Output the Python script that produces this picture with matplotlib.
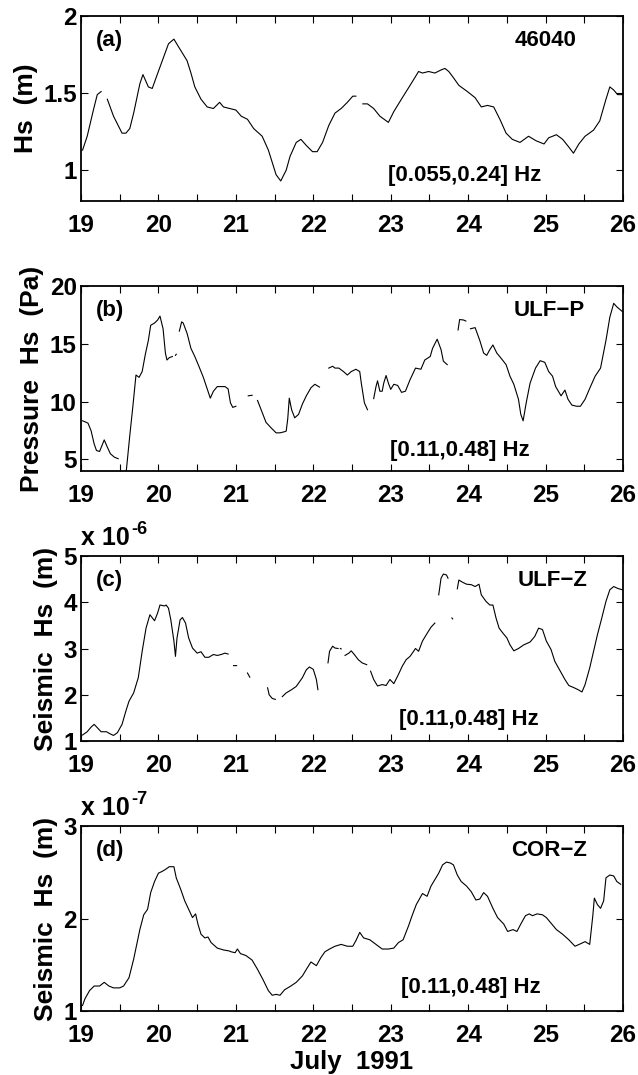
import numpy as np
import matplotlib
matplotlib.use("Agg")
import matplotlib.pyplot as plt
from matplotlib.ticker import MultipleLocator, FixedLocator
from matplotlib.transforms import offset_copy

plt.rcParams['font.family'] = ['Liberation Sans', 'DejaVu Sans']
plt.rcParams['font.weight'] = 'bold'

nan = np.nan

# (a) Buoy 46040 significant wave height, 0.055-0.24 Hz (m)
buoy_day = [19.02, 19.08, 19.16, 19.21, 19.26, nan,
            19.34, 19.42, 19.53, 19.58, 19.63, 19.68, 19.76, 19.80, 19.87, 19.92,
            19.97, 20.05, 20.13, 20.20, 20.26, 20.37, 20.42, 20.47, 20.55, 20.63,
            20.71, 20.79, 20.84, 20.92, 21.00, 21.07, 21.15, 21.23, 21.34, 21.42,
            21.47, 21.52, 21.58, 21.65, 21.70, 21.78, 21.84, 21.91, 21.99, 22.05,
            22.12, 22.20, 22.28, 22.36, 22.44, 22.51, 22.55, nan,
            22.64, 22.70, 22.78, 22.86, 22.97, 23.04, 23.15, 23.25, 23.36, 23.41,
            23.49, 23.57, 23.65, 23.70, 23.75, 23.81, 23.88, 23.99, 24.09, 24.17,
            24.25, 24.33, 24.41, 24.49, 24.57, 24.67, 24.78, 24.88, 24.98, 25.04,
            25.14, 25.22, 25.30, 25.36, 25.43, 25.51, 25.62, 25.70, 25.78, 25.83,
            25.88, 25.93, 25.99]
buoy_hs = [1.13, 1.22, 1.39, 1.49, 1.51, nan,
           1.46, 1.35, 1.24, 1.24, 1.27, 1.37, 1.56, 1.62, 1.54, 1.53,
           1.60, 1.71, 1.82, 1.85, 1.80, 1.71, 1.63, 1.54, 1.46, 1.41,
           1.40, 1.44, 1.41, 1.40, 1.39, 1.35, 1.33, 1.27, 1.22, 1.13,
           1.05, 0.97, 0.93, 1.00, 1.09, 1.18, 1.20, 1.16, 1.12, 1.12,
           1.18, 1.29, 1.37, 1.40, 1.44, 1.48, 1.48, nan,
           1.43, 1.43, 1.40, 1.35, 1.31, 1.38, 1.47, 1.55, 1.64, 1.63,
           1.64, 1.63, 1.65, 1.66, 1.64, 1.60, 1.55, 1.51, 1.47, 1.41,
           1.42, 1.41, 1.33, 1.24, 1.20, 1.18, 1.22, 1.19, 1.17, 1.21,
           1.23, 1.20, 1.15, 1.11, 1.17, 1.22, 1.26, 1.32, 1.46, 1.54,
           1.52, 1.49, 1.49]

# (b) ULF pressure Hs, 0.11-0.48 Hz (Pa)
ulfp_day = [19.02, 19.05, 19.09, 19.13, 19.17, 19.20, 19.24, 19.27, 19.30, 19.34,
            19.38, 19.43, 19.48, nan,
            19.57, 19.63, 19.67, 19.71, 19.75, 19.79, 19.83, 19.87, 19.90, 19.95,
            19.99, 20.02, 20.06, 20.09, 20.11, 20.14, 20.18, nan,
            20.22, 20.23, nan,
            20.27, 20.30, 20.32, 20.37, 20.42, 20.47, 20.52, 20.58, 20.63, 20.67,
            20.71, 20.76, 20.81, 20.86, 20.90, 20.93, 20.96, 21.00, nan,
            21.16, 21.21, nan,
            21.28, 21.34, 21.39, 21.46, 21.52, 21.57, 21.63, 21.65, 21.67, 21.69,
            21.72, 21.76, 21.81, 21.86, 21.91, 21.97, 22.02, 22.08, nan,
            22.20, 22.25, 22.28, 22.33, 22.39, 22.44, 22.49, 22.55, 22.60, 22.62,
            22.66, 22.70, nan,
            22.78, 22.81, 22.83, 22.86, 22.89, 22.91, 22.94, 22.97, 23.00, 23.04,
            23.09, 23.14, 23.19, 23.25, 23.32, 23.39, 23.44, 23.51, 23.54, 23.60,
            23.65, 23.68, 23.73, nan,
            23.87, 23.89, 23.94, 23.97, nan,
            24.03, 24.09, 24.15, 24.20, 24.24, 24.28, 24.32, 24.37, 24.42, 24.49,
            24.54, 24.59, 24.65, 24.68, 24.71, 24.75, 24.80, 24.87, 24.93, 24.99,
            25.04, 25.09, 25.13, 25.20, 25.25, 25.29, 25.34, 25.40, 25.45, 25.51,
            25.58, 25.64, 25.71, 25.78, 25.83, 25.88, 25.92, 25.99]
ulfp_hs = [8.34, 8.26, 8.14, 7.49, 6.34, 5.77, 5.69, 6.2, 6.69, 6.06,
           5.49, 5.2, 5.06, nan,
           3.0, 7.06, 9.6, 12.3, 12.1, 12.6, 14.06, 15.3, 16.6, 16.8,
           17.06, 17.4, 16.3, 14.2, 13.6, 13.8, 13.9, nan,
           14.0, 14.1, nan,
           16.1, 16.9, 16.8, 15.9, 14.6, 13.9, 13.1, 12.1, 11.1, 10.3,
           10.9, 11.3, 11.3, 11.3, 11.1, 9.9, 9.5, 9.6, nan,
           10.5, 10.55, nan,
           10.1, 9.06, 8.2, 7.7, 7.3, 7.3, 7.4, 7.45, 8.5, 10.3,
           9.3, 8.6, 8.9, 9.8, 10.5, 11.2, 11.5, 11.26, nan,
           12.9, 13.06, 12.9, 12.9, 12.6, 12.3, 12.6, 12.8, 12.6, 11.6,
           9.9, 9.3, nan,
           10.26, 11.3, 11.8, 10.9, 10.9, 11.6, 12.26, 11.6, 11.06, 11.5,
           11.4, 10.8, 10.9, 11.9, 12.9, 12.8, 13.6, 13.9, 14.6, 15.4,
           14.5, 13.5, 13.2, nan,
           16.2, 17.1, 17.06, 16.97, nan,
           16.3, 16.4, 15.3, 14.2, 14.0, 14.5, 14.9, 14.2, 13.8, 13.2,
           12.2, 11.5, 10.2, 8.9, 8.34, 9.9, 11.6, 12.9, 13.54, 13.4,
           12.6, 12.2, 11.3, 10.5, 11.0, 10.2, 9.7, 9.6, 9.6, 10.2,
           11.3, 12.2, 12.9, 15.3, 17.3, 18.5, 18.2, 17.8]

# (c) ULF seismic vertical Hs, 0.11-0.48 Hz (units of 1e-6 m)
ulfz_day = [19.02, 19.08, 19.13, 19.17, 19.21, 19.26, 19.33, 19.37, 19.42, 19.47,
            19.53, 19.58, 19.62, 19.68, 19.74, 19.79, 19.84, 19.89, 19.95, 19.99,
            20.02, 20.08, 20.10, 20.13, 20.16, 20.20, 20.22, 20.24, 20.28, 20.31,
            20.35, 20.39, 20.44, 20.50, 20.55, 20.60, 20.65, 20.71, 20.76, 20.81,
            20.86, 20.90, nan,
            20.97, 21.01, nan,
            21.15, 21.18, nan,
            21.41, 21.43, 21.47, 21.51, nan,
            21.60, 21.65, 21.72, 21.78, 21.86, 21.91, 21.95, 22.00, 22.04, 22.06, nan,
            22.19, 22.21, 22.25, 22.28, 22.32, nan,
            22.35, 22.36, nan,
            22.41, 22.46, 22.49, 22.53, 22.58, 22.63, 22.69, nan,
            22.74, 22.78, 22.83, 22.89, 22.94, 22.99, 23.04, 23.10, 23.15, 23.20,
            23.25, 23.32, 23.36, 23.41, 23.46, 23.52, 23.57, nan,
            23.62, 23.65, 23.68, 23.72, 23.74, nan,
            23.79, 23.80, nan,
            23.86, 23.88, 23.93, 23.98, 24.04, 24.09, 24.14, 24.17, 24.23, 24.28,
            24.32, 24.36, 24.40, 24.45, 24.50, 24.54, 24.59, 24.65, 24.72, 24.80,
            24.86, 24.91, 24.96, 25.01, 25.07, 25.12, 25.19, 25.25, 25.30, 25.37,
            25.42, 25.47, 25.51, 25.57, 25.62, 25.67, 25.72, 25.78, 25.83, 25.88,
            25.93, 25.99]
ulfz_hs = [1.13, 1.2, 1.30, 1.36, 1.29, 1.2, 1.2, 1.16, 1.12, 1.18,
           1.36, 1.65, 1.86, 2.04, 2.37, 2.94, 3.44, 3.73, 3.6, 3.77,
           3.94, 3.92, 3.94, 3.87, 3.62, 3.16, 2.83, 3.23, 3.62, 3.67,
           3.55, 3.23, 3.01, 2.9, 2.93, 2.81, 2.81, 2.87, 2.85, 2.87,
           2.9, 2.88, nan,
           2.63, 2.63, nan,
           2.47, 2.38, nan,
           2.15, 2.0, 1.92, 1.9, nan,
           1.96, 2.04, 2.11, 2.18, 2.37, 2.54, 2.6, 2.55, 2.33, 2.11, nan,
           2.69, 2.94, 3.05, 3.01, 3.0, nan,
           3.0, 2.99, nan,
           2.85, 2.9, 2.95, 2.87, 2.76, 2.69, 2.65, nan,
           2.51, 2.33, 2.19, 2.22, 2.2, 2.33, 2.24, 2.44, 2.62, 2.76,
           2.83, 3.0, 2.94, 3.16, 3.3, 3.46, 3.55, nan,
           4.16, 4.52, 4.61, 4.59, 4.52, nan,
           3.66, 3.64, nan,
           4.29, 4.48, 4.43, 4.39, 4.38, 4.34, 4.39, 4.16, 4.02, 3.94,
           3.94, 3.66, 3.44, 3.33, 3.23, 3.08, 2.95, 3.0, 3.08, 3.14,
           3.26, 3.44, 3.41, 3.16, 2.98, 2.72, 2.51, 2.33, 2.2, 2.15,
           2.11, 2.06, 2.22, 2.58, 2.94, 3.3, 3.62, 4.02, 4.27, 4.34,
           4.3, 4.27]

# (d) COR seismic vertical Hs, 0.11-0.48 Hz (units of 1e-7 m)
corz_day = [19.02, 19.05, 19.11, 19.17, 19.24, 19.30, 19.36, 19.42, 19.50, 19.55,
            19.62, 19.68, 19.76, 19.81, 19.86, 19.90, 19.95, 20.00, 20.05, 20.09,
            20.14, 20.20, 20.23, 20.29, 20.34, 20.39, 20.44, 20.48, 20.51, 20.55,
            20.60, 20.64, 20.68, 20.76, 20.84, 20.91, 20.94, 20.99, 21.02, 21.06,
            21.13, 21.21, 21.28, 21.35, 21.42, 21.47, 21.52, 21.57, 21.63, 21.71,
            21.78, 21.86, 21.91, 21.97, 22.04, 22.10, 22.15, 22.21, 22.28, 22.36,
            22.44, 22.51, 22.55, 22.60, 22.65, 22.73, 22.81, 22.89, 22.97, 23.04,
            23.10, 23.16, 23.23, 23.28, 23.33, 23.41, 23.47, 23.52, 23.57, 23.62,
            23.67, 23.72, 23.77, 23.81, 23.86, 23.91, 23.98, 24.04, 24.10, 24.15,
            24.20, 24.25, 24.32, 24.38, 24.46, 24.51, 24.58, 24.63, 24.68, 24.74,
            24.79, 24.83, 24.89, 24.96, 25.01, 25.07, 25.14, 25.22, 25.30, 25.38,
            25.46, 25.51, 25.57, 25.61, 25.63, 25.67, 25.71, 25.75, 25.78, 25.83,
            25.88, 25.92, 25.97]
corz_hs = [1.06, 1.13, 1.22, 1.27, 1.27, 1.31, 1.27, 1.25, 1.25, 1.27,
           1.36, 1.56, 1.88, 2.04, 2.1, 2.28, 2.4, 2.49, 2.51, 2.53,
           2.56, 2.56, 2.44, 2.31, 2.19, 2.1, 2.01, 2.05, 1.94, 1.83,
           1.79, 1.8, 1.74, 1.68, 1.66, 1.65, 1.64, 1.63, 1.67, 1.62,
           1.6, 1.55, 1.45, 1.34, 1.22, 1.17, 1.18, 1.17, 1.23, 1.27,
           1.31, 1.38, 1.45, 1.53, 1.49, 1.58, 1.64, 1.67, 1.70, 1.72,
           1.70, 1.70, 1.76, 1.85, 1.79, 1.77, 1.72, 1.67, 1.67, 1.68,
           1.74, 1.77, 1.92, 2.04, 2.15, 2.27, 2.24, 2.35, 2.42, 2.49,
           2.58, 2.61, 2.6, 2.58, 2.47, 2.4, 2.35, 2.29, 2.2, 2.21,
           2.28, 2.24, 2.11, 2.01, 1.94, 1.86, 1.88, 1.86, 1.94, 2.03,
           2.05, 2.03, 2.05, 2.04, 2.01, 1.95, 1.88, 1.83, 1.77, 1.7,
           1.73, 1.75, 1.72, 2.03, 2.22, 2.15, 2.11, 2.19, 2.44, 2.47,
           2.46, 2.40, 2.37]

day_ticks = [19, 20, 21, 22, 23, 24, 25, 26]

panels = [
    dict(x=buoy_day, y=buoy_hs, ylim=(0.8, 2.0), yticks=[1, 1.5, 2],
         yticklabels=['1', '1.5', '2'], ylabel='Hs  (m)', tag='(a)', name='46040',
         band='[0.055,0.24] Hz', exp=None, name_x=0.915, band_x=0.707, band_y=0.14),
    dict(x=ulfp_day, y=ulfp_hs, ylim=(4, 20), yticks=[5, 10, 15, 20],
         yticklabels=['5', '10', '15', '20'], ylabel='Pressure  Hs  (Pa)', tag='(b)',
         name='ULF\u2212P', band='[0.11,0.48] Hz', exp=None, name_x=0.93,
         band_x=0.698, band_y=0.112),
    dict(x=ulfz_day, y=ulfz_hs, ylim=(1, 5), yticks=[1, 2, 3, 4, 5],
         yticklabels=['1', '2', '3', '4', '5'], ylabel='Seismic  Hs  (m)', tag='(c)',
         name='ULF\u2212Z', band='[0.11,0.48] Hz', exp='-6', name_x=0.934,
         band_x=0.716, band_y=0.117),
    dict(x=corz_day, y=corz_hs, ylim=(1, 3), yticks=[1, 2, 3],
         yticklabels=['1', '2', '3'], ylabel='Seismic  Hs  (m)', tag='(d)',
         name='COR\u2212Z', band='[0.11,0.48] Hz', exp='-7', name_x=0.934,
         band_x=0.72, band_y=0.127),
]

fig = plt.figure(figsize=(6.38, 10.75), dpi=100)
left, width, height = 81 / 638, 542 / 638, 185 / 1075
bottoms = [(1075 - 201) / 1075, (1075 - 471) / 1075, (1075 - 741) / 1075, (1075 - 1011) / 1075]

tick_fs = 17.5
text_fs = 16
for p, b in zip(panels, bottoms):
    ax = fig.add_axes([left, b, width, height])
    ax.plot(p['x'], p['y'], color='black', lw=0.8)
    ax.set_xlim(19, 26)
    ax.set_ylim(*p['ylim'])
    ax.xaxis.set_major_locator(FixedLocator(day_ticks))
    ax.xaxis.set_minor_locator(MultipleLocator(0.5))
    ax.set_xticklabels([str(d) for d in day_ticks])
    ax.set_yticks(p['yticks'])
    ax.set_yticklabels(p['yticklabels'])
    ax.tick_params(which='both', direction='in', top=True, right=True,
                   width=0.8, labelsize=tick_fs)
    ax.tick_params(which='major', length=5)
    ax.tick_params(which='minor', length=5)
    ax.tick_params(axis='x', which='major', pad=9)
    ax.tick_params(axis='y', which='major', pad=3)
    for lab in ax.get_xticklabels() + ax.get_yticklabels():
        lab.set_fontweight('bold')
    for s in ax.spines.values():
        s.set_linewidth(1.3)
    ax.set_ylabel(p['ylabel'], fontsize=19, fontweight='bold', labelpad=4)

    ax.text(0.027, 0.87, p['tag'], transform=ax.transAxes, fontsize=text_fs,
            fontweight='bold', ha='left', va='center')
    ax.text(p['name_x'], 0.87, p['name'], transform=ax.transAxes, fontsize=text_fs,
            fontweight='bold', ha='right', va='center')
    ax.text(p['band_x'], p['band_y'], p['band'], transform=ax.transAxes,
            fontsize=text_fs, fontweight='bold', ha='center', va='center')

    if p['exp'] is not None:
        base = ax.text(0.0, 1.0, 'x 10',
                       transform=offset_copy(ax.transAxes, fig=fig, y=4, units='points'),
                       fontsize=18, fontweight='bold', ha='left', va='bottom')
        fig.canvas.draw()
        bb = base.get_window_extent()
        inv = fig.transFigure.inverted()
        x1, y1 = inv.transform((bb.x1, bb.y1))
        fig.text(x1 + 0.002, y1 - 0.003, p['exp'], fontsize=13, fontweight='bold',
                 ha='left', va='center')

    last_ax = ax

last_ax.set_xlabel('July  1991', fontsize=18.5, fontweight='bold', labelpad=2.5)

fig.savefig('out.png', dpi=100)
